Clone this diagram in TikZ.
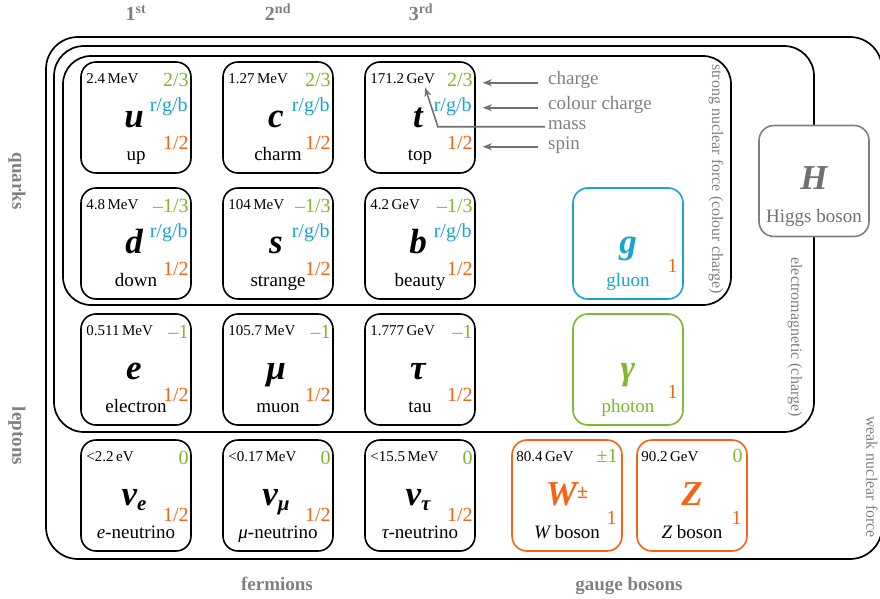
\documentclass[tikz,border=0pt]{standalone}
\usepackage{fontspec}
\setmainfont{Liberation Serif}
\usetikzlibrary{arrows.meta}
\definecolor{qgreen}{RGB}{125,185,40}
\definecolor{qcyan}{RGB}{25,165,200}
\definecolor{qorange}{RGB}{245,100,20}
\definecolor{qgray}{RGB}{128,128,128}
\definecolor{qdgray}{RGB}{112,112,112}
\newcommand\fs[1]{\fontsize{#1}{#1}\selectfont}
\newcommand\ifnotempty[2]{\if\relax\detokenize{#1}\relax\else#2\fi}
\newcommand\nusym[1]{ν\raisebox{-5pt}{\fs{21}#1}}
\tikzset{
  pbox/.style={draw, line width=1.6pt, rounded corners=15pt, minimum width=110pt, minimum height=111pt, inner sep=0pt, fill=white},
  enc/.style={draw, line width=1.7pt},
  mass/.style={inner sep=0pt, font=\fs{15}},
  charge/.style={inner sep=0pt, text=qgreen, font=\fs{20}},
  colch/.style={inner sep=0pt, text=qcyan, font=\fs{20}},
  spin/.style={inner sep=0pt, text=qorange, font=\fs{20}},
  symb/.style={inner sep=0pt, font=\fs{35}\bfseries\itshape},
  lab/.style={inner sep=0pt, font=\fs{19}},
  side/.style={inner sep=0pt, text=qgray, font=\fs{16}, rotate=-90},
  grp/.style={inner sep=0pt, text=qgray, font=\fs{19}\bfseries},
  gen/.style={inner sep=0pt, text=qgray, font=\fs{20}\bfseries, anchor=base},
  note/.style={inner sep=0pt, text=qgray, font=\fs{19}, anchor=base west},
  arr/.style={draw=qdgray, line width=1.6pt, -{Stealth[length=9pt,width=7pt]}}
}
% #1 name, #2 left, #3 top, #4 mass, #5 charge, #6 colour charge, #7 symbol, #8 label, #9 spin offset
\newcommand\fermion[9]{%
  \node[pbox] (#1) at (#2+55,#3+55.5) {};
  \node[mass,anchor=base west] (#1-m) at ([xshift=6pt,yshift=-22pt]#1.north west) {#4};
  \node[charge,anchor=base east] (#1-q) at ([xshift=-3pt,yshift=-25pt]#1.north east) {#5};
  \ifnotempty{#6}{\node[colch,anchor=base east] (#1-c) at ([xshift=-4pt,yshift=-50pt]#1.north east) {#6};}
  \node[spin,anchor=base east] (#1-s) at ([xshift=-3pt,yshift=-#9pt]#1.north east) {1/2};
  \node[symb,anchor=base] (#1-y) at ([xshift=-2pt,yshift=-66pt]#1.north) {#7};
  \node[lab,anchor=base] (#1-l) at ([yshift=-99pt]#1.north) {#8};
}
% #1 name, #2 left, #3 top, #4 colour, #5 mass, #6 charge, #7 symbol, #8 label, #9 label colour
\newcommand\boson[9]{%
  \node[pbox,draw=#4] (#1) at (#2+55,#3+55.5) {};
  \ifnotempty{#5}{\node[mass,anchor=base west] (#1-m) at ([xshift=5pt,yshift=-22pt]#1.north west) {#5};}
  \ifnotempty{#6}{\node[charge,anchor=base east] (#1-q) at ([xshift=-5pt,yshift=-23pt]#1.north east) {#6};}
  \node[spin,anchor=base east] (#1-s) at ([xshift=-6pt,yshift=-85pt]#1.north east) {1};
  \node[symb,anchor=base,text=#4] (#1-y) at ([yshift=-66pt]#1.north) {#7};
  \node[lab,anchor=base,text=#9] (#1-l) at ([yshift=-99pt]#1.north) {#8};
}
\begin{document}
\begin{tikzpicture}[x=1pt,y=-1pt]
\useasboundingbox (0,0) rectangle (880,599);
% enclosures
\draw[enc, rounded corners=32pt] (46,37) rectangle (882,559);
\draw[enc, rounded corners=30pt] (54,46) rectangle (814,432);
\draw[enc, rounded corners=28pt] (63,56) rectangle (731,305);
% fermions
\fermion{u}{81}{62}{2.4\,MeV}{2/3}{r/g/b}{u}{up}{88}
\fermion{c}{223}{62}{1.27\,MeV}{2/3}{r/g/b}{c}{charm}{88}
\fermion{t}{365}{62}{171.2\,GeV}{2/3}{r/g/b}{t}{top}{88}
\fermion{d}{81}{188}{4.8\,MeV}{–1/3}{r/g/b}{d}{down}{88}
\fermion{s}{223}{188}{104\,MeV}{–1/3}{r/g/b}{s}{strange}{88}
\fermion{b}{365}{188}{4.2\,GeV}{–1/3}{r/g/b}{b}{beauty}{88}
\fermion{e}{81}{314}{0.511\,MeV}{–1}{}{e}{electron}{88}
\fermion{mu}{223}{314}{105.7\,MeV}{–1}{}{μ}{muon}{88}
\fermion{tau}{365}{314}{1.777\,GeV}{–1}{}{τ}{tau}{88}
\fermion{ne}{81}{440}{<2.2\,eV}{0}{}{\nusym{e}}{{\itshape e}-neutrino}{82}
\fermion{nmu}{223}{440}{<0.17\,MeV}{0}{}{\nusym{μ}}{{\itshape μ}-neutrino}{82}
\fermion{ntau}{365}{440}{<15.5\,MeV}{0}{}{\nusym{τ}}{{\itshape τ}-neutrino}{82}
% bosons
\boson{g}{573}{188}{qcyan}{}{}{g}{gluon}{qcyan}
\boson{gam}{573}{314}{qgreen}{}{}{γ}{photon}{qgreen}
\boson{W}{512}{440}{qorange}{80.4\,GeV}{±1}{W\raisebox{7pt}{\fs{20}\upshape ±}}{{\itshape W} boson}{black}
\boson{Z}{637}{440}{qorange}{90.2\,GeV}{0}{Z}{{\itshape Z} boson}{black}
% Higgs
\node[pbox, draw=qgray] (H) at (814,181) {};
\node[symb, anchor=base, text=qdgray] (H-y) at ([yshift=-65pt]H.north) {H};
\node[lab, anchor=base, text=qdgray] (H-l) at ([yshift=-98pt]H.north) {Higgs boson};
% force labels
\node[side] (strong) at (716,179) {strong nuclear force (colour charge)};
\node[side] (emf) at (795,337) {electromagnetic (charge)};
\node[side] (weak) at (872,477) {weak nuclear force};
% group labels
\node[gen] (g1) at (136,21) {1\textsuperscript{st}};
\node[gen] (g2) at (278,21) {2\textsuperscript{nd}};
\node[gen] (g3) at (421,21) {3\textsuperscript{rd}};
\node[grp, rotate=-90] (quarks) at (17,181) {quarks};
\node[grp, rotate=-90] (leptons) at (17,436) {leptons};
\node[grp, anchor=base] (fermions) at (277,590) {fermions};
\node[grp, anchor=base] (gauge) at (629,590) {gauge bosons};
% legend
\node[note] (lch) at (548,85) {charge};
\node[note] (lcc) at (548,110) {colour charge};
\node[note] (lms) at (548,129) {mass};
\node[note] (lsp) at (548,149) {spin};
\coordinate (ae) at ([xshift=7pt]t.east);
\coordinate (mk) at ([xshift=-38pt]t.east);
\draw[arr] ([xshift=-10pt]lch.mid west) -- (ae |- lch.mid west);
\draw[arr] ([xshift=-10pt]lcc.mid west) -- (ae |- lcc.mid west);
\draw[arr] ([xshift=-10pt]lsp.mid west) -- (ae |- lsp.mid west);
\draw[arr] ([xshift=-3pt]lms.mid west) -- (mk |- lms.mid west) -- ([xshift=-10pt,yshift=-4pt]t-m.south east);
\end{tikzpicture}
\end{document}
